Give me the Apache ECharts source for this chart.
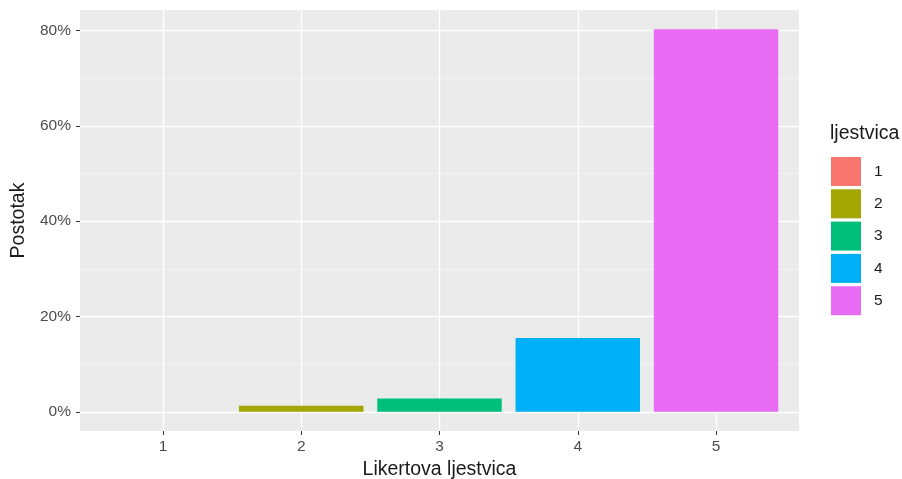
<!DOCTYPE html>
<html>
<head>
<meta charset="utf-8">
<script src="https://cdn.jsdelivr.net/npm/echarts@6/dist/echarts.min.js"></script>
<style>html,body{margin:0;padding:0;background:#fff;}#c{width:902px;height:479px;}</style>
</head>
<body>
<div id="c"></div>
<script>
const categories = ['1', '2', '3', '4', '5'];
const values = [0, 1.3, 2.8, 15.5, 80.3];
const colors = ['#F8766D', '#A3A500', '#00BF7D', '#00B0F6', '#E76BF3'];
const yMajorTicks = [0, 20, 40, 60, 80];
const yMinorTicks = [10, 30, 50, 70];
const xTitle = 'Likertova ljestvica';
const yTitle = 'Postotak';
const legendTitle = 'ljestvica';

const FONT = 'Liberation Sans, Arial, sans-serif';
const xPositions = categories.map((c, i) => i + 1);
const yMaxData = Math.max(...values);
const yMin = -0.05 * yMaxData;
const yMax = 1.05 * yMaxData;

const chart = echarts.init(document.getElementById('c'), null, {renderer: 'canvas'});
chart.setOption({
  animation: false,
  backgroundColor: '#ffffff',
  title: {
    text: legendTitle,
    left: 830, top: 124, padding: 0,
    textStyle: {fontFamily: FONT, fontSize: 19.5, fontWeight: 'normal', color: '#1A1A1A'}
  },
  legend: {
    orient: 'vertical',
    left: 831, top: 157,
    itemWidth: 30, itemHeight: 29, itemGap: 3.3,
    icon: 'rect',
    padding: 0,
    data: categories,
    textStyle: {fontFamily: FONT, fontSize: 15.5, color: '#1A1A1A', padding: [0, 0, 0, 8]}
  },
  grid: {
    left: 80, right: 103, top: 10, bottom: 48,
    show: true, backgroundColor: '#EBEBEB', borderWidth: 0,
    containLabel: false,
    outerBoundsMode: 'none'
  },
  xAxis: {
    type: 'value',
    min: 0.4, max: 5.6,
    name: xTitle,
    nameLocation: 'middle',
    nameGap: 27,
    nameTextStyle: {fontFamily: FONT, fontSize: 19.5, color: '#1A1A1A', verticalAlign: 'top'},
    axisLine: {show: false, onZero: false},
    axisTick: {show: true, length: 4, lineStyle: {color: '#333333', width: 1}, customValues: xPositions},
    axisLabel: {
      customValues: xPositions,
      margin: 8,
      fontFamily: FONT, fontSize: 15.5, color: '#4D4D4D',
      formatter: v => categories[Math.round(v) - 1]
    },
    splitLine: {show: true, lineStyle: {color: '#FFFFFF', width: 1.4}},
    minorSplitLine: {show: false}
  },
  yAxis: [{
    type: 'value',
    min: yMin, max: yMax,
    name: yTitle,
    nameLocation: 'middle',
    nameGap: 50,
    nameRotate: 90,
    nameTextStyle: {fontFamily: FONT, fontSize: 19.5, color: '#1A1A1A'},
    axisLine: {show: false, onZero: false},
    axisTick: {show: true, length: 4, lineStyle: {color: '#333333', width: 1}, customValues: yMajorTicks},
    axisLabel: {
      customValues: yMajorTicks,
      margin: 9,
      fontFamily: FONT, fontSize: 15.5, color: '#4D4D4D',
      formatter: v => Math.round(v) + '%'
    },
    splitLine: {show: true, lineStyle: {color: '#FFFFFF', width: 1.4}}
  }, {
    type: 'value',
    min: yMin, max: yMax,
    position: 'left',
    axisLine: {show: false, onZero: false},
    axisTick: {show: false, customValues: yMinorTicks},
    axisLabel: {show: false, customValues: yMinorTicks},
    splitLine: {show: true, lineStyle: {color: '#F5F5F5', width: 0.8}}
  }],
  series: categories.map((c, i) => ({
    type: 'bar',
    name: c,
    stack: 'all',
    xAxisIndex: 0,
    yAxisIndex: 0,
    barWidth: '90%',
    clip: false,
    itemStyle: {color: colors[i]},
    data: [[xPositions[i], values[i]]]
  }))
});
</script>
</body>
</html>
